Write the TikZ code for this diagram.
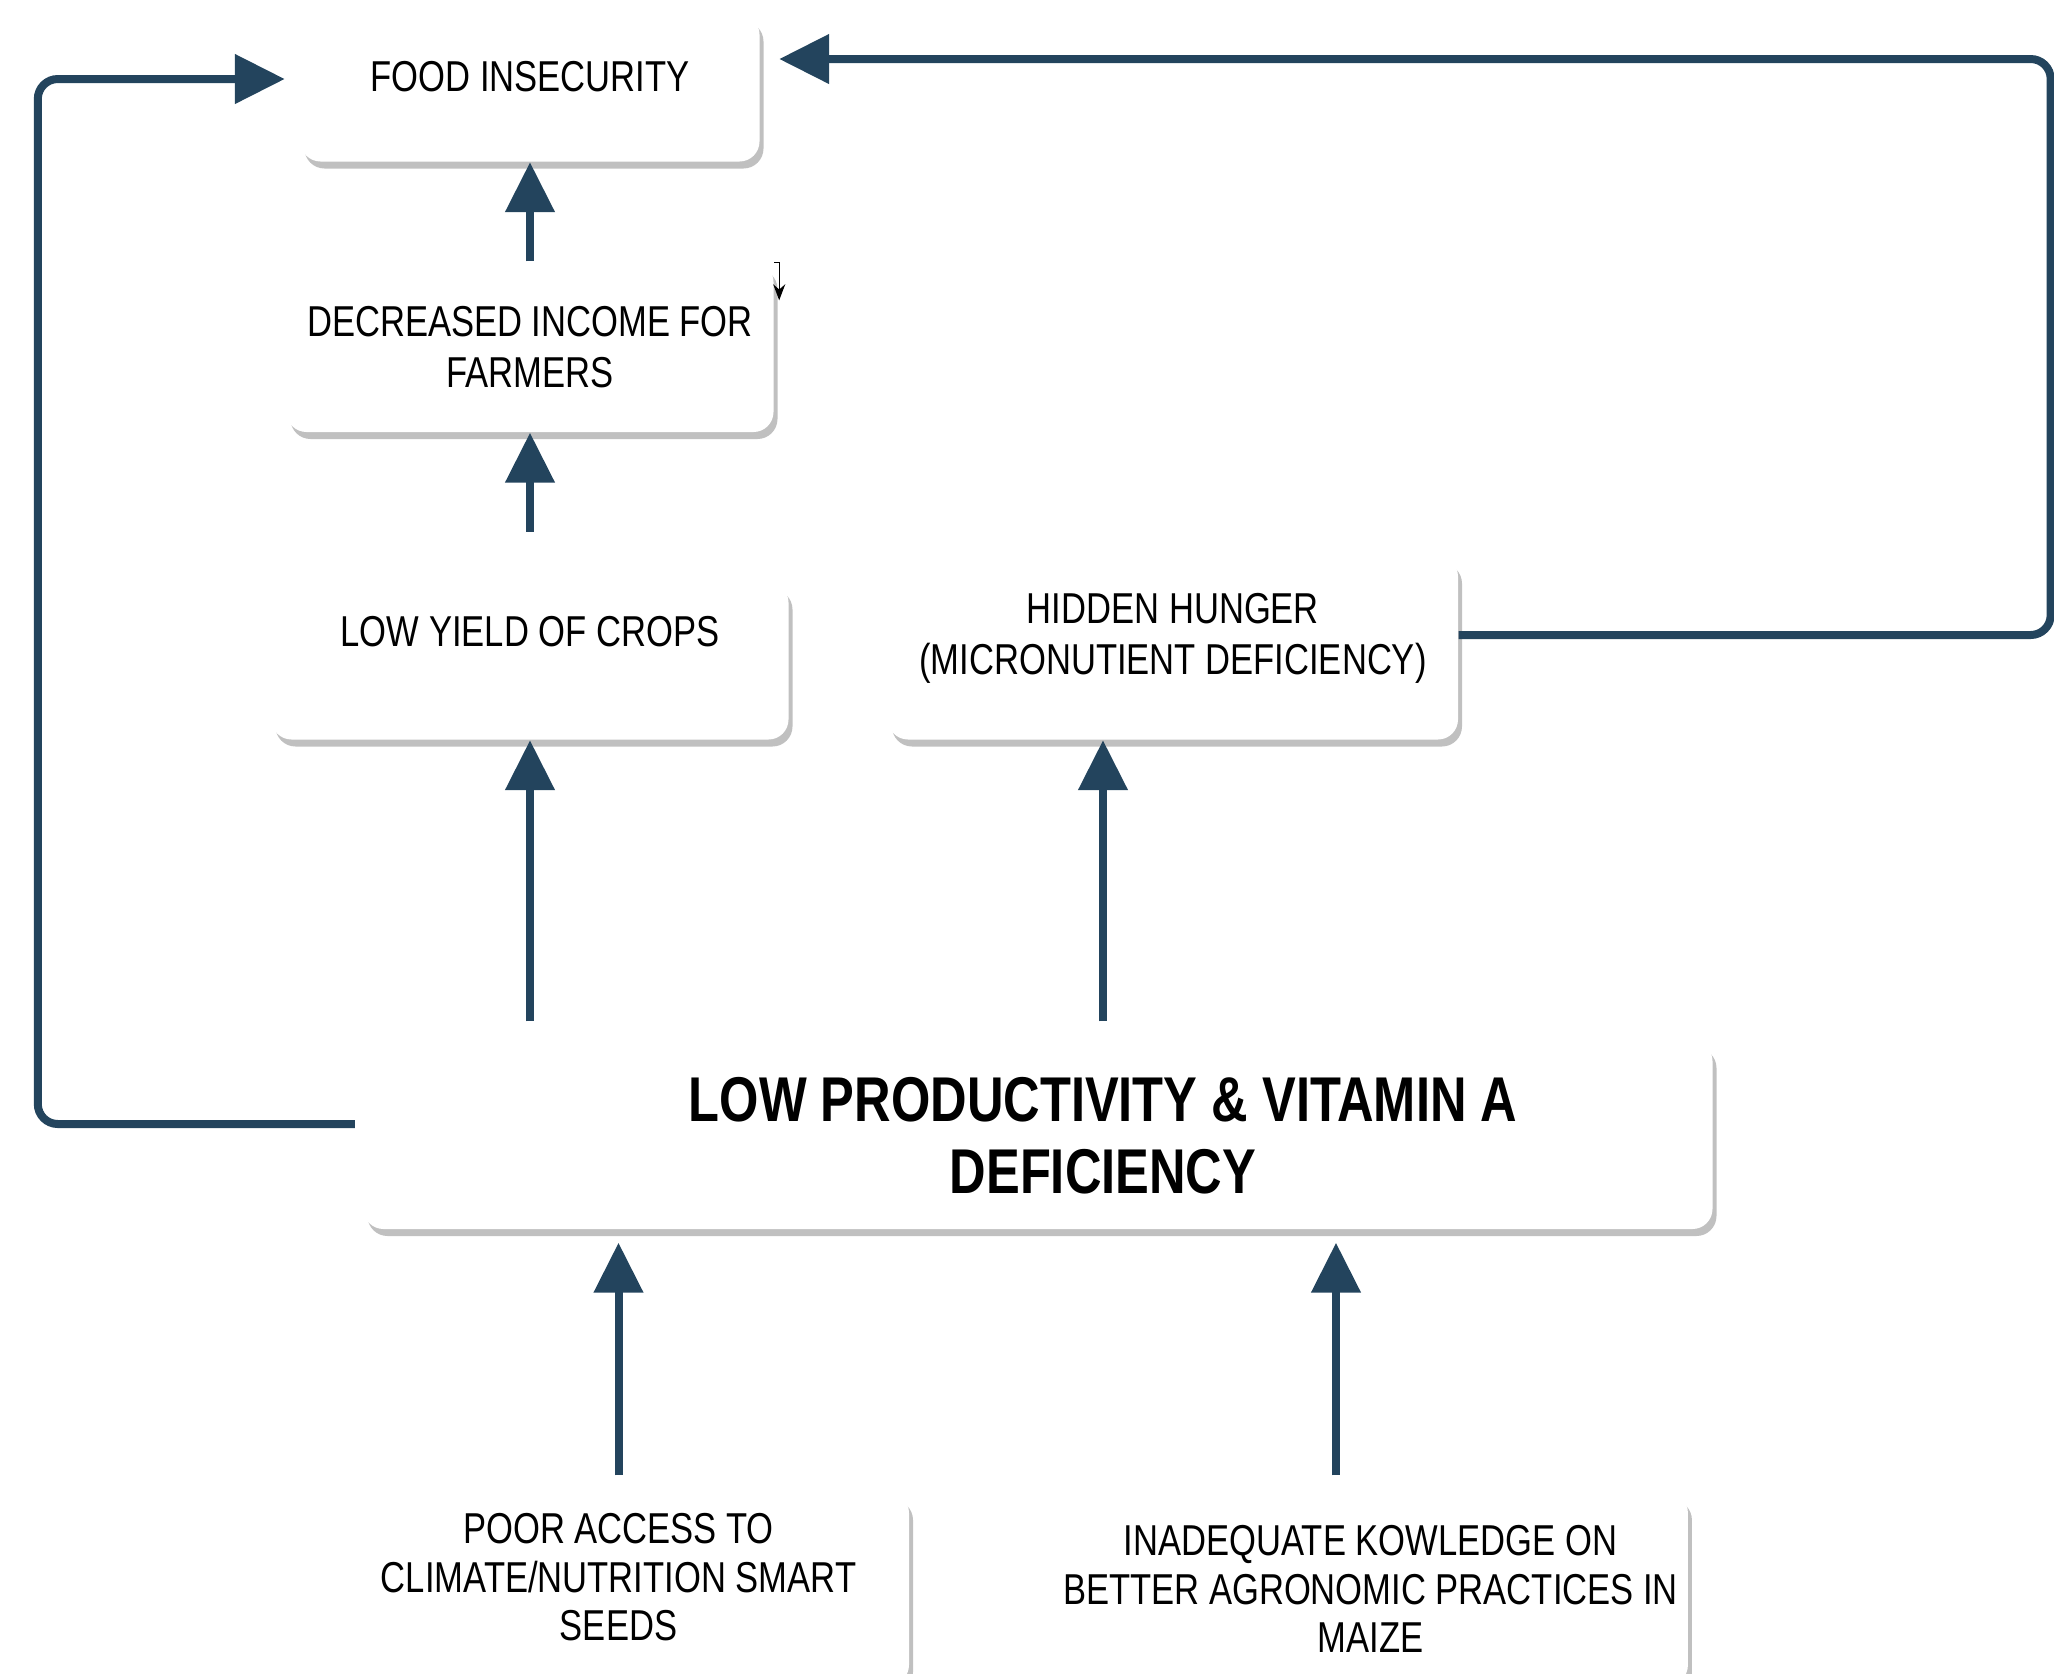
\documentclass[tikz,border=0pt]{standalone}
\usepackage{fontspec}
\setmainfont{Liberation Sans}[FakeStretch=0.8]
\usepackage{tikz}
\usetikzlibrary{positioning}
\usetikzlibrary{shadows}
\usetikzlibrary{arrows.meta}
\definecolor{navy}{RGB}{35,68,93}
\definecolor{shade}{RGB}{192,192,192}

\begin{document}
\begin{tikzpicture}[
            > = {Triangle[width=4.8mm,length=5mm]}, % arrow head style
            flow/.style = {->, draw = navy, line width = 0.8mm, rounded corners = 2mm}
        ]

        \tikzstyle{box}=[
            fill = white,
            rounded corners = 2mm,
            align = center,
            inner xsep = 1mm,
            drop shadow = {shadow xshift=0.4mm, shadow yshift=-0.7mm, fill=shade, opacity=1},
            font = \fontsize{12.3}{14.5}\selectfont
        ]

        \useasboundingbox (0,0) rectangle (20.54,-16.73);

	% effects
        \node[box, minimum width=45.9mm, minimum height=14.7mm, text depth=2.4mm] (food) at (5.30,-0.88) {FOOD INSECURITY};
        \node[box, minimum width=48.7mm, minimum height=17mm] (income) at (5.30,-3.47) {DECREASED INCOME FOR\\FARMERS};
        \node[box, minimum width=51.7mm, minimum height=15.7mm, text depth=6mm] (yield) at (5.30,-6.61) {LOW YIELD OF CROPS};
        \node[box, minimum width=57mm, minimum height=18.3mm, text depth=2.8mm] (hunger) at (11.73,-6.48) {HIDDEN HUNGER\\(MICRONUTIENT DEFICIENCY)};

        % core problem
        \node[box, minimum width=134.9mm, minimum height=18.8mm] (core) at (10.38,-11.35) {};
        \node[align=center, font=\fontsize{18}{20.5}\selectfont\bfseries] (coretext) at (11.03,-11.36) {LOW PRODUCTIVITY \& VITAMIN A\\DEFICIENCY};

        % causes
        \node[box, minimum width=58.1mm, minimum height=19.2mm, text depth=2.4mm, font=\fontsize{12.3}{13.8}\selectfont] (seeds) at (6.185,-15.89) {POOR ACCESS TO\\CLIMATE/NUTRITION SMART\\SEEDS};
        \node[box, minimum width=63.1mm, minimum height=19.2mm, font=\fontsize{12.3}{13.8}\selectfont] (skills) at (13.705,-15.89) {INADEQUATE KOWLEDGE ON\\BETTER AGRONOMIC PRACTICES IN\\MAIZE};

        \draw[flow] (income.north) -- (food.south);
        \draw[flow] ([yshift=5mm]yield.north) -- (income.south);
        \draw[flow] ([yshift=1.9mm]core.north -| yield.south) -- (yield.south);
        \draw[flow] ([yshift=1.9mm]coretext |- core.north) -- (coretext |- hunger.south);

        \draw[flow] ([yshift=1.7mm]seeds.north) -- ([yshift=-1.3mm]seeds.north |- core.south);
        \draw[flow] ([xshift=-3.45mm,yshift=1.7mm]skills.north) -- ([xshift=-3.45mm,yshift=-1.3mm]skills.north |- core.south);

        % feedback loops
        \draw[flow] ([xshift=-0.8mm,yshift=1.1mm]core.west) -- ++(-3.17,0) |- ([xshift=-1.5mm,yshift=0.9mm]food.west);
        \draw[flow] ([yshift=1.3mm]hunger.east) -- ++(5.92,0) |- ([xshift=1.9mm,yshift=2.9mm]food.east);

        \draw[thin, -{Stealth[length=1.6mm,width=1.2mm]}] ([yshift=-0.1mm]income.north east) -- ++(0.5mm,0) -- ++(0,-3.8mm);

\end{tikzpicture}
\end{document}
